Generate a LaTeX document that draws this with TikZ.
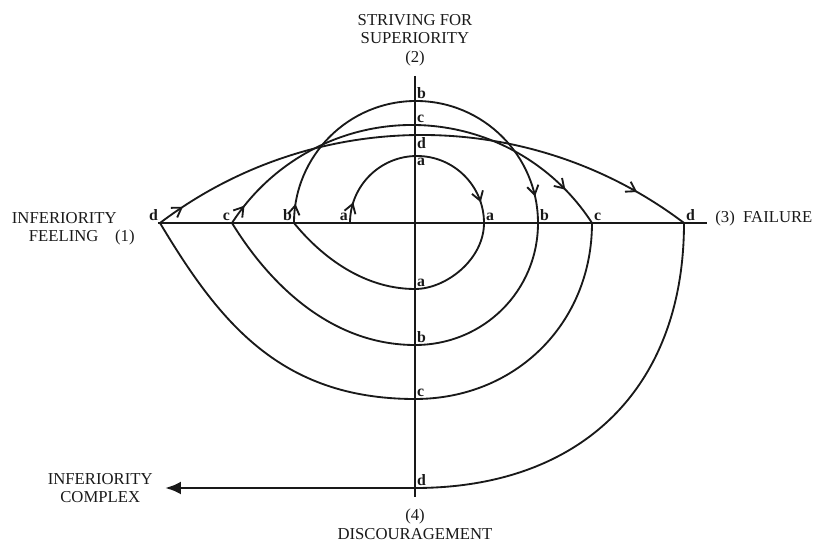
\documentclass[tikz,border=0pt]{standalone}
\usepackage{fontspec}
\setmainfont{Liberation Serif}
\usetikzlibrary{arrows.meta,positioning,decorations.markings}
\definecolor{ink}{RGB}{25,25,25}
\tikzset{
  axis/.style={draw=ink,line width=1.1pt},
  spiral/.style={draw=ink,line width=1.05pt},
  caption/.style={font=\fontsize{9.5}{10.5}\selectfont,align=center,inner sep=0pt,text=ink},
  tag/.style={font=\fontsize{9}{9}\selectfont\bfseries,inner sep=1pt,text=ink},
  barbs/.style 2 args={postaction={decorate},decoration={markings,
      mark=at position #1 with {\arrow{Straight Barb[length=1.8mm,width=2.3mm]}},
      mark=at position #2 with {\arrow{Straight Barb[length=1.8mm,width=2.3mm]}}}},
  heavy/.style={-{Latex[length=3.2mm,width=2.6mm]},draw=ink,line width=1.7pt},
}

\begin{document}
\begin{tikzpicture}
  \useasboundingbox (-8.30,-6.40) rectangle (8.00,4.46);
  % axes
  \coordinate (O) at (0,0);
  \coordinate (N) at (0,2.94);
  \coordinate (S) at (0,-5.48);
  \coordinate (W) at (-5.14,0);
  \coordinate (E) at (5.84,0);
  \draw[axis] (W) -- (E);
  \draw[axis] (N) -- (S);
  % where the spiral cuts the axes
  \coordinate (aL) at (-1.30,0); \coordinate (aR) at (1.38,0);
  \coordinate (aT) at (0,1.34);  \coordinate (aB) at (0,-1.32);
  \coordinate (bL) at (-2.42,0); \coordinate (bR) at (2.46,0);
  \coordinate (bT) at (0,2.44);  \coordinate (bB) at (0,-2.44);
  \coordinate (cL) at (-3.66,0); \coordinate (cR) at (3.54,0);
  \coordinate (cT) at (0,1.96);  \coordinate (cB) at (0,-3.52);
  \coordinate (dL) at (-5.10,0); \coordinate (dR) at (5.38,0);
  \coordinate (dT) at (0,1.76);  \coordinate (dB) at (0,-5.30);
  \coordinate (tipC) at (-5.00,-5.30);
  % upper arcs
  \draw[spiral,barbs={0.10}{0.90}] (aL) arc[start angle=180,end angle=0,radius=1.34];
  \draw[spiral,barbs={0.05}{0.93}] (bL) arc[start angle=180,end angle=0,radius=2.44];
  \draw[spiral,barbs={0.05}{0.90}] (cL) arc[start angle=147.14,end angle=32.86,radius=4.286];
  \draw[spiral,barbs={0.05}{0.90}] (dL) arc[start angle=127.14,end angle=52.86,radius=8.68];
  % lower arcs
  \draw[spiral] (aR) .. controls +(0,-0.73) and +(0.62,0) .. (aB)
    .. controls +(-1.1,0) and +(0.47,-0.58) .. (bL);
  \draw[spiral] (bR) .. controls +(0,-1.36) and +(1.37,0) .. (bB)
    .. controls +(-1.7,0) and +(0.73,-1.19) .. (cL);
  \draw[spiral] (cR) .. controls +(0,-2.0) and +(2.02,0) .. (cB)
    .. controls +(-2.7,0) and +(1.18,-1.97) .. (dL);
  \draw[spiral] (dR) .. controls +(0,-3.29) and +(3.34,0) .. (dB);
  \draw[heavy] (dB) -- (tipC);
  % letters
  \foreach \p/\t in {aL/a,bL/b,cL/c,dL/d}
    \node[tag,anchor=south east] (t\p) at (\p) {\t};
  \foreach \p/\t in {aR/a,bR/b,cR/c,dR/d,bT/b,cT/c,aB/a,bB/b,cB/c,dB/d}
    \node[tag,anchor=south west] (t\p) at (\p) {\t};
  \foreach \p/\t in {aT/a,dT/d}
    \node[tag,anchor=north west] (t\p) at (\p) {\t};
  % captions
  \node[caption,above=2mm of N] (striving) {STRIVING FOR\\SUPERIORITY\\(2)};
  \node[caption,align=left,left=4.6mm of W,yshift=-1.2mm] (feeling)
    {INFERIORITY\\\hspace*{3.4mm}FEELING\quad(1)};
  \node[caption,right=1.6mm of E,yshift=1mm] (failure) {(3)\ \ FAILURE};
  \node[caption,below=2.4mm of S] (discour) {(4)\\DISCOURAGEMENT};
  \node[caption,left=2.4mm of tipC] (complex) {INFERIORITY\\COMPLEX};
\end{tikzpicture}
\end{document}
